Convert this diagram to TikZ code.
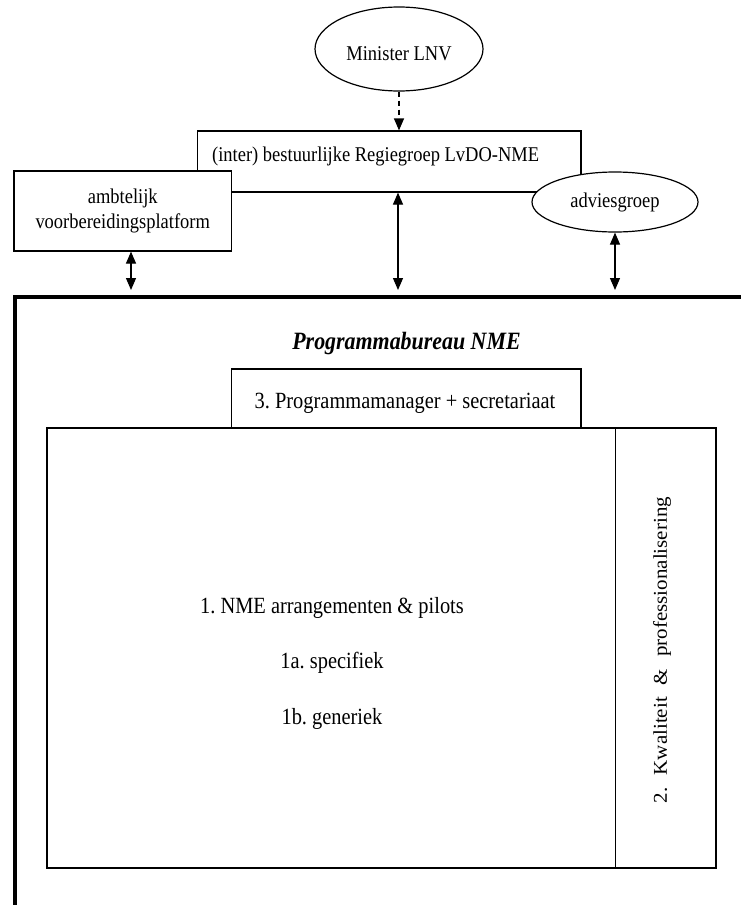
\documentclass[tikz,border=0pt]{standalone}
\usepackage{fontspec}
\usepackage{graphicx}
\setmainfont{Liberation Serif}[FakeStretch=0.88]
\newfontfamily\plainserif{Liberation Serif}
\usetikzlibrary{arrows.meta,shapes.geometric}
\begin{document}
\frenchspacing
\begin{tikzpicture}[x=1pt,y=-1pt,
  thinbox/.style={draw, line width=1.2pt, fill=white, inner sep=0pt},
  lbl/.style={font=\fontsize{21}{25}\selectfont},
  boxtxt/.style={font=\fontsize{23.2}{27}\selectfont},
  tip/.style={-{Triangle[width=10pt,length=12pt]}, line width=1.2pt},
  dbl/.style={{Triangle[width=10pt,length=12pt]}-{Triangle[width=10pt,length=12pt]}, line width=1.2pt}]
\useasboundingbox (0,0) rectangle (741,905);
\clip (0,0) rectangle (741,905);
\fill[white] (0,0) rectangle (741,905);
% top group
\node[thinbox, minimum width=383.5pt, minimum height=61pt] (regie) at (389.25,161.5) {};
\node[lbl, anchor=west, inner sep=0pt] (regietext) at (212,156) {(inter) bestuurlijke Regiegroep LvDO-NME};
\node[thinbox, minimum width=217.5pt, minimum height=80pt, lbl, align=center] (amb) at (122.75,211) {ambtelijk\\voorbereidingsplatform};
\node[thinbox, ellipse, minimum width=166pt, minimum height=60pt, lbl] (advies) at (615,202) {adviesgroep};
\node[thinbox, ellipse, minimum width=168pt, minimum height=84pt] (minister) at (399,49) {};
\node[lbl] (mintext) at (399,54) {Minister LNV};
% frame
\draw[line width=4.5pt] (15,930) -- (15,297) -- (760,297);
\coordinate (c1) at (131,290);
\coordinate (c2) at (398,290);
\coordinate (c3) at (615,290);
\draw[dbl] (c1 |- amb.south) -- (c1);
\draw[dbl] (c2 |- regie.south) -- (c2);
\draw[dbl] (advies.south) -- (c3);
\draw[tip, dash pattern=on 5pt off 4pt] (minister.south) -- (minister.south |- regie.north);
% programmabureau
\node[font=\fontsize{24.9}{28}\selectfont\bfseries\itshape] (title) at (406.5,344) {Programmabureau NME};
\node[thinbox, minimum width=349.5pt, minimum height=59pt] (pm) at (406.25,398.5) {};
\node[boxtxt] (pmtext) at (405,403) {3. Programmamanager + secretariaat};
\node[thinbox, minimum width=568.5pt, minimum height=440pt] (arr) at (331.25,648) {};
\node[thinbox, minimum width=100.5pt, minimum height=440pt] (kwal) at (665.75,648) {};
\node[boxtxt] (t1) at (332,608) {1. NME arrangementen \& pilots};
\node[boxtxt] (t1a) at (332,663) {1a. specifiek};
\node[boxtxt] (t1b) at (332,719) {1b. generiek};
\node[rotate=90, font=\plainserif\fontsize{21}{25}\selectfont] (t2) at (662,650) {\scalebox{1}[0.93]{2.\hspace{12pt}Kwaliteit\hspace{12pt}\&\hspace{12pt}professionalisering}};
\end{tikzpicture}
\end{document}
